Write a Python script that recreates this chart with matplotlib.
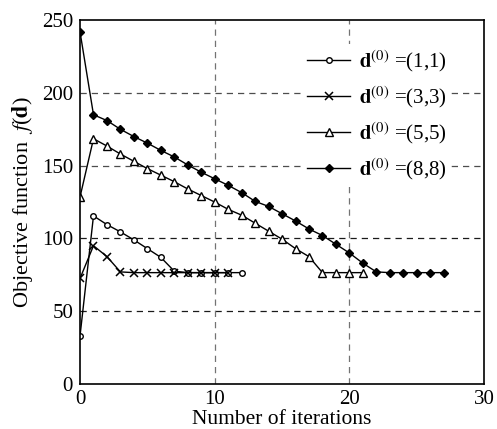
import matplotlib
matplotlib.use("Agg")
import matplotlib.pyplot as plt
import numpy as np

plt.rcParams['font.family'] = ['Liberation Serif', 'DejaVu Serif']
plt.rcParams['mathtext.fontset'] = 'stix'
plt.rcParams['font.size'] = 14

# data
it_11 = list(range(0, 13))
f_11 = [33, 115.5, 109.5, 104.5, 99, 93, 87, 77.5, 76.5, 76.5, 76.5, 76.5, 76.5]

it_33 = list(range(0, 12))
f_33 = [72.5, 95, 87.5, 77, 76.5, 76.5, 76.5, 76.5, 76.5, 76.5, 76.5, 76.5]

it_55 = list(range(0, 22))
f_55 = [128.5, 168.5, 163.5, 158, 153, 148, 143.5, 139, 134, 129.5, 125, 120,
        116, 110.5, 105, 99.5, 93, 87.5, 76.5, 76.5, 76.5, 76.5]

it_88 = list(range(0, 28))
f_88 = [242, 185, 181, 175, 170, 165.5, 160.5, 156, 150.5, 145.5, 141, 136.5,
        131.5, 125.5, 122, 117, 112, 106.5, 102, 96, 90, 83, 77, 76.5, 76.5,
        76.5, 76.5, 76.5]

labels = ['(1,1)', '(3,3)', '(5,5)', '(8,8)']

fig = plt.figure(figsize=(4.97, 4.29), dpi=100)
ax = fig.add_axes([0.161, 0.105, 0.813, 0.848])

# grid
for yv, c in [(50, '0.1'), (100, '0.1'), (150, '0.3'), (200, '0.3')]:
    ax.axhline(yv, color=c, ls=(0, (5, 4)), lw=0.9, zorder=0)
for xv in [10, 20]:
    ax.axvline(xv, color='0.45', ls=(0, (5, 4)), lw=0.9, zorder=0)

lw = 1.0
ax.plot(it_11, f_11, '-', color='k', lw=lw, marker='o', ms=4, mfc='white', mew=1,
        label=r'$\mathbf{d}^{(0)}$ =' + labels[0])
ax.plot(it_33, f_33, '-', color='k', lw=lw, marker='x', ms=6, mew=1.1,
        label=r'$\mathbf{d}^{(0)}$ =' + labels[1])
ax.plot(it_55, f_55, '-', color='k', lw=lw, marker='^', ms=5.5, mfc='white', mew=1,
        label=r'$\mathbf{d}^{(0)}$ =' + labels[2])
ax.plot(it_88, f_88, '-', color='k', lw=lw, marker='D', ms=4.5, mfc='k',
        label=r'$\mathbf{d}^{(0)}$ =' + labels[3])

ax.set_xlim(0, 30)
ax.set_ylim(0, 250)
ax.set_xticks([0, 10, 20, 30])
ax.set_yticks([0, 50, 100, 150, 200, 250])
ax.tick_params(direction='in', length=0, labelsize=15)
ax.tick_params(axis='y', pad=5)
ax.tick_params(axis='x', pad=4)
ax.set_xlabel('Number of iterations', fontsize=15.5, labelpad=1)
ax.set_ylabel(r'Objective function  $f$($\mathbf{d}$)', fontsize=16, labelpad=5)
for s in ax.spines.values():
    s.set_linewidth(1.2)

leg = ax.legend(loc='upper left', bbox_to_anchor=(0.552, 0.935), fontsize=15,
                frameon=True, facecolor='white', edgecolor='none', framealpha=1,
                fancybox=False, borderaxespad=0, borderpad=0.2,
                handlelength=2.07, handletextpad=0.4, labelspacing=0.5)

fig.savefig('out.png', dpi=100)
